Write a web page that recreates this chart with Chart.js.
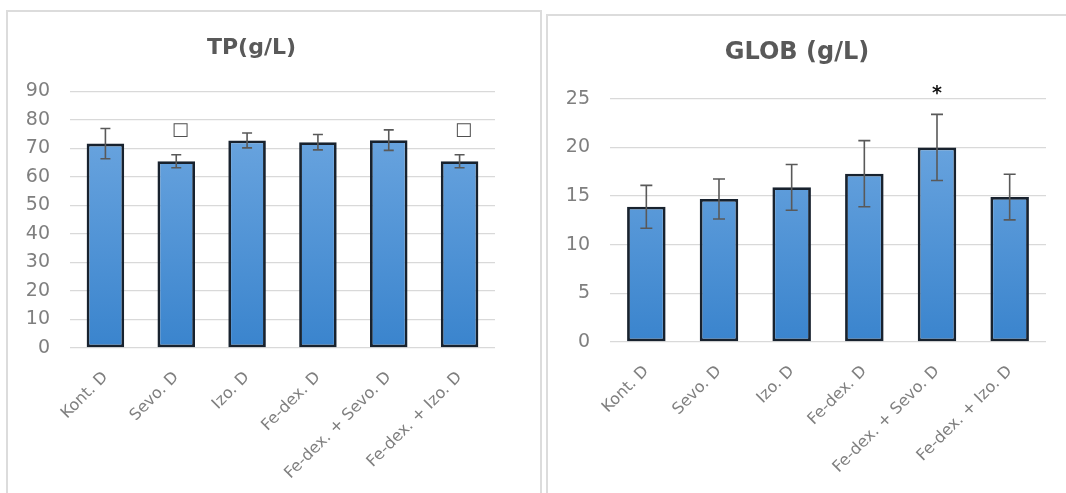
<!DOCTYPE html>
<html lang="en">
<head>
    <meta charset="UTF-8">
    <title>TP and GLOB</title>
    <script src="https://cdn.jsdelivr.net/npm/chart.js"></script>
    <style>
        body, html {
            margin: 0;
            padding: 0;
            background-color: white;
            width: 1066px;
            height: 493px;
            overflow: hidden;
        }
        .panel {
            position: absolute;
            background-color: white;
            border: 2px solid #dcdcdc;
            border-bottom: none;
        }
        #leftPanel { left: 6px; top: 10px; width: 532px; height: 490px; }
        #rightPanel { left: 546px; top: 14px; width: 530px; height: 490px; }
        canvas { position: absolute; left: 0; top: 0; }
    </style>
</head>
<body>
    <div class="panel" id="leftPanel"><canvas id="tpChart" width="532" height="481"></canvas></div>
    <div class="panel" id="rightPanel"><canvas id="globChart" width="518" height="477"></canvas></div>

    <script>
        const groups = ['Kont. D', 'Sevo. D', 'Izo. D', 'Fe-dex. D', 'Fe-dex. + Sevo. D', 'Fe-dex. + Izo. D'];

        const tpMean = [71.7, 65.5, 72.8, 72.2, 72.9, 65.5];
        const tpSd = [5.3, 2.3, 2.6, 2.7, 3.6, 2.3];
        const tpMarks = [null, '\u25A1', null, null, null, '\u25A1'];
        const tpTicks = { min: 0, max: 90, step: 10 };

        const globMean = [13.9, 14.7, 15.9, 17.3, 20.0, 14.9];
        const globSd = [2.2, 2.05, 2.35, 3.4, 3.4, 2.35];
        const globMarks = [null, null, null, null, '*', null];
        const globTicks = { min: 0, max: 25, step: 5 };

        // error bars + significance marks, drawn from the y scale
        const errorBars = {
            id: 'errorBars',
            afterDatasetsDraw(chart, args, opts) {
                const ctx = chart.ctx;
                const y = chart.scales.y;
                const meta = chart.getDatasetMeta(0);
                ctx.save();
                ctx.strokeStyle = '#595959';
                ctx.lineWidth = 1.6;
                opts.mean.forEach((m, i) => {
                    const x = meta.data[i].x;
                    const top = y.getPixelForValue(m + opts.sd[i]);
                    const bot = y.getPixelForValue(m - opts.sd[i]);
                    ctx.beginPath();
                    ctx.moveTo(x, top); ctx.lineTo(x, bot);
                    ctx.moveTo(x - opts.cap, top); ctx.lineTo(x + opts.cap, top);
                    ctx.moveTo(x - opts.cap, bot); ctx.lineTo(x + opts.cap, bot);
                    ctx.stroke();
                    const mark = opts.marks[i];
                    if (mark) {
                        ctx.fillStyle = opts.markColor;
                        ctx.font = opts.markFont;
                        ctx.textAlign = 'center';
                        ctx.textBaseline = 'middle';
                        ctx.fillText(mark, x + opts.markDx, top - 24 + opts.markDy);
                    }
                });
                ctx.restore();
            }
        };

        function barFill(context) {
            const area = context.chart.chartArea;
            if (!area) return '#5b9bd5';
            const g = context.chart.ctx.createLinearGradient(0, area.top, 0, area.bottom);
            g.addColorStop(0, '#72aae2');
            g.addColorStop(1, '#3a84cd');
            return g;
        }

        function makeChart(id, title, titleSize, mean, sd, marks, ticks, opts) {
            return new Chart(document.getElementById(id), {
                type: 'bar',
                data: {
                    labels: groups,
                    datasets: [{
                        data: mean,
                        backgroundColor: barFill,
                        borderColor: '#18222e',
                        borderWidth: 2.8,
                        borderSkipped: false,
                        categoryPercentage: 1,
                        barPercentage: 0.53
                    }]
                },
                options: {
                    responsive: false,
                    animation: false,
                    layout: { padding: { top: 10, right: opts.padRight, left: 0, bottom: 0 } },
                    plugins: {
                        legend: { display: false },
                        tooltip: { enabled: false },
                        title: {
                            display: true,
                            text: title,
                            color: '#595959',
                            font: { family: 'DejaVu Sans', size: titleSize, weight: 'bold' },
                            padding: { top: opts.titleTop, bottom: opts.titleBottom }
                        },
                        errorBars: {
                            mean: mean, sd: sd, marks: marks, cap: opts.cap,
                            markFont: opts.markFont, markColor: opts.markColor,
                            markDx: opts.markDx, markDy: opts.markDy
                        }
                    },
                    scales: {
                        x: {
                            grid: { display: false },
                            border: { display: false },
                            ticks: {
                                color: '#7f7f7f',
                                font: { family: 'DejaVu Sans', size: 16 },
                                maxRotation: 45,
                                minRotation: 45,
                                padding: 12
                            },
                            afterFit: s => { s.height = opts.xHeight; }
                        },
                        y: {
                            min: ticks.min,
                            max: ticks.max,
                            grid: { color: '#d9d9d9', lineWidth: 1.3, drawTicks: false },
                            border: { display: false },
                            ticks: {
                                stepSize: ticks.step,
                                color: '#7f7f7f',
                                font: { family: 'DejaVu Sans', size: 19 },
                                padding: 20
                            },
                            afterFit: s => { s.width = 62; }
                        }
                    }
                },
                plugins: [errorBars]
            });
        }

        makeChart('tpChart', 'TP(g/L)', 22, tpMean, tpSd, tpMarks, tpTicks, {
            padRight: 45, titleTop: 13, titleBottom: 30, xHeight: 145, cap: 5,
            markFont: '18px DejaVu Sans', markColor: '#505050', markDx: 4, markDy: 0
        });
        makeChart('globChart', 'GLOB (g/L)', 24, globMean, globSd, globMarks, globTicks, {
            padRight: 20, titleTop: 12, titleBottom: 32, xHeight: 151, cap: 6,
            markFont: 'bold 19px DejaVu Sans', markColor: '#111111', markDx: 0, markDy: 4
        });
    </script>
</body>
</html>
